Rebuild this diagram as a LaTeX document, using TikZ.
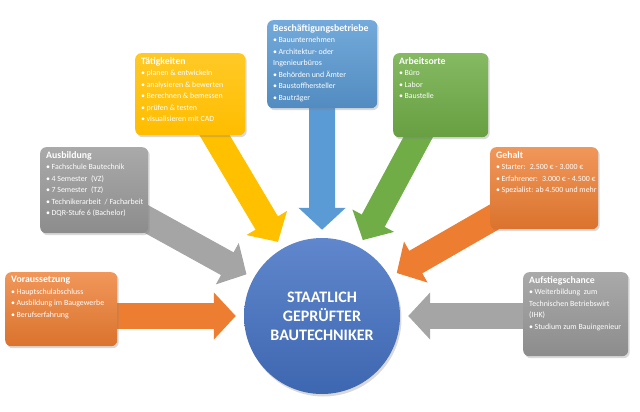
\documentclass[tikz,border=0pt]{standalone}
\usepackage{fontspec}
\setmainfont{Carlito}
\usetikzlibrary{arrows.meta,backgrounds,shadows}
\definecolor{OfficeOrange}{RGB}{237,125,49}
\definecolor{OfficeGray}{RGB}{165,165,165}
\definecolor{OfficeYellow}{RGB}{255,192,0}
\definecolor{OfficeBlue}{RGB}{91,155,213}
\definecolor{OfficeGreen}{RGB}{112,173,71}
\definecolor{CoreBlue}{RGB}{68,114,196}
\newcommand{\itm}{\textbullet\hspace{1.5pt}}
\newcommand{\boxtext}[4]{\parbox[t][#2][t]{#1}{{\fontsize{9.8}{11}\selectfont\bfseries #3\par}%
  {\fontsize{7.9}{11.5}\selectfont\begin{tabular}[t]{@{}l@{}}#4\end{tabular}\par}}}
\tikzset{
  bigarrow/.style={line width=26pt,-{Triangle[length=22pt,width=46pt]},shorten >=8pt},
  infobox/.style={rounded corners=6pt,anchor=north west,inner xsep=6pt,inner ysep=4pt,
    text=white,drop shadow={opacity=0.3,shadow xshift=1.5pt,shadow yshift=-2pt}},
  orangebox/.style={infobox,top color=OfficeOrange!80!white,bottom color=OfficeOrange!92!black},
  graybox/.style={infobox,top color=OfficeGray!95!white,bottom color=OfficeGray!85!black},
  yellowbox/.style={infobox,top color=OfficeYellow!85!white,bottom color=OfficeYellow!95!orange},
  bluebox/.style={infobox,top color=OfficeBlue!85!white,bottom color=OfficeBlue!90!black},
  greenbox/.style={infobox,top color=OfficeGreen!85!white,bottom color=OfficeGreen!92!black},
  corecircle/.style={circle,minimum size=156pt,inner sep=0pt,align=center,text=white,
    top color=CoreBlue!85!white,bottom color=CoreBlue!90!black,
    font=\fontsize{16}{19}\selectfont\bfseries,
    drop shadow={opacity=0.3,shadow xshift=1.5pt,shadow yshift=-2.5pt}}
}
\begin{document}
\begin{tikzpicture}[x=1pt,y=1pt]
  \useasboundingbox (0,-412) rectangle (640,0);
  \node[corecircle] (bt) at (322,-316) {STAATLICH\\GEPRÜFTER\\BAUTECHNIKER};
  \node[orangebox] (vor) at (5,-272) {\boxtext{100pt}{66pt}{Voraussetzung}{\itm Hauptschulabschluss\\\itm Ausbildung im Baugewerbe\\\itm Berufserfahrung}};
  \node[graybox] (aus) at (40,-147) {\boxtext{96pt}{78pt}{Ausbildung}{\itm Fachschule Bautechnik\\\itm 4 Semester~ (VZ)\\\itm 7 Semester~ (TZ)\\\itm Technikerarbeit~ / Facharbeit\\\itm DQR-Stufe 6 (Bachelor)}};
  \node[yellowbox] (tae) at (135,-53) {\boxtext{98pt}{74pt}{Tätigkeiten}{\itm planen \& entwickeln\\\itm analysieren \& bewerten\\\itm Berechnen \& bemessen\\\itm prüfen \& testen\\\itm visualisieren mit CAD}};
  \node[bluebox] (bes) at (267,-20) {\boxtext{98pt}{80pt}{Beschäftigungsbetriebe}{\itm Bauunternehmen\\\itm Architektur- oder\\Ingenieurbüros\\\itm Behörden und Ämter\\\itm Baustoffhersteller\\\itm Bauträger}};
  \node[greenbox] (arb) at (393,-53) {\boxtext{83pt}{76pt}{Arbeitsorte}{\itm Büro\\\itm Labor\\\itm Baustelle}};
  \node[orangebox] (geh) at (490,-147) {\boxtext{96pt}{74pt}{Gehalt}{\itm Starter:~ 2.500 € - 3.000 €\\\itm Erfahrener:~ 3.000 € - 4.500 €\\\itm Spezialist: ab 4.500 und mehr}};
  \node[graybox] (auf) at (523,-272) {\boxtext{93pt}{76pt}{Aufstiegschance}{\itm Weiterbildung~ zum\\Technischen Betriebswirt\\(IHK)\\\itm Studium zum Bauingenieur}};
  \begin{scope}[on background layer]
    \draw[bigarrow,draw=OfficeOrange,fill=OfficeOrange] (vor.east |- bt.center) -- (bt.west);
    \draw[bigarrow,draw=OfficeGray,fill=OfficeGray] (aus.center) -- (bt);
    \draw[bigarrow,draw=OfficeYellow,fill=OfficeYellow] (tae.center) -- (bt);
    \draw[bigarrow,draw=OfficeBlue,fill=OfficeBlue] (bes.center) -- (bt);
    \draw[bigarrow,draw=OfficeGreen,fill=OfficeGreen] (arb.center) -- (bt);
    \draw[bigarrow,draw=OfficeOrange,fill=OfficeOrange] (geh.center) -- (bt);
    \draw[bigarrow,draw=OfficeGray,fill=OfficeGray] (auf.west |- bt.center) -- (bt.east);
  \end{scope}
\end{tikzpicture}
\end{document}
